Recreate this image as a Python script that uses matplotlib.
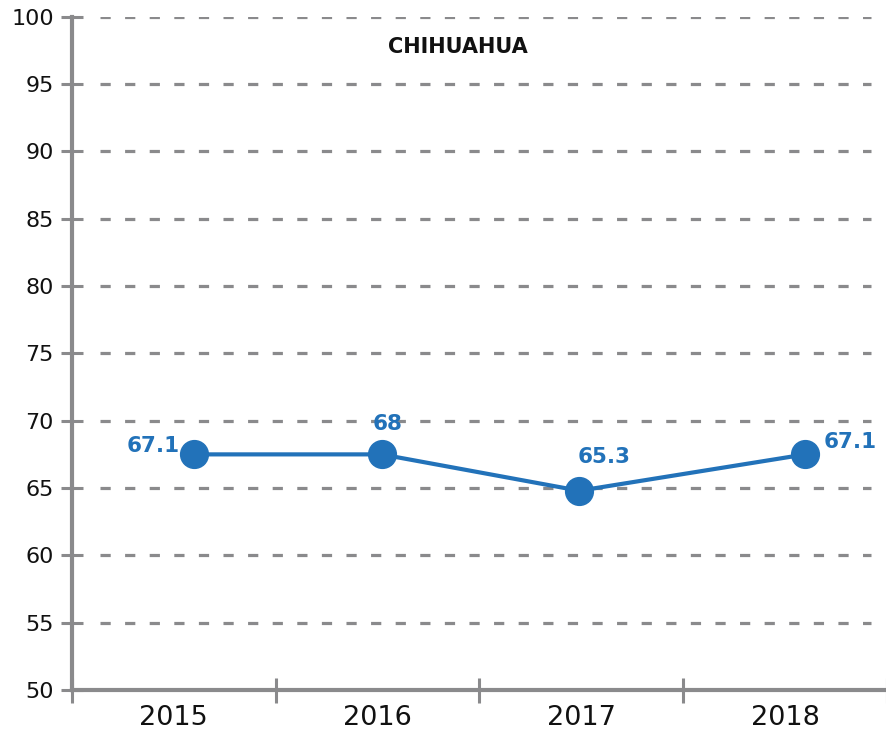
import numpy as np
import matplotlib
matplotlib.use('Agg')
import matplotlib.pyplot as plt
from matplotlib.ticker import FixedLocator

BLUE = '#2272B9'
GRAY = '#8A8A8C'

years = ['2015', '2016', '2017', '2018']
x_pos = [0.10, 1.02, 1.99, 3.10]          # point positions as drawn
values = [67.5, 67.5, 64.8, 67.5]          # heights as drawn
labels = ['67.1', '68', '65.3', '67.1']    # printed values
y_ticks = [50, 55, 60, 65, 70, 75, 80, 85, 90, 95, 100]

plt.rcParams['font.family'] = ['DejaVu Sans']

fig = plt.figure(figsize=(8.87, 7.34), dpi=100)
ax = fig.add_axes([0.081, 0.060, 0.919, 0.917])

ax.set_xlim(-0.5, 3.5)
ax.set_ylim(50, 100)

for y in y_ticks[1:]:
    ax.plot([-0.36, 3.42], [y, y], color=GRAY, lw=2.3, dashes=(3.2, 4.5), zorder=1)

ax.plot(x_pos, values, color=BLUE, lw=3, marker='o', markersize=20, zorder=3)

offs = [(-10, 6, 'right'), (4, 22, 'center'), (18, 24, 'center'), (13, 9, 'left')]
for xp, v, t, (dx, dy, ha) in zip(x_pos, values, labels, offs):
    ax.annotate(t, (xp, v), xytext=(dx, dy), textcoords='offset points',
                ha=ha, va='center', color=BLUE, fontsize=15.5, fontweight='bold', zorder=4)

ax.text(0.473, 0.955, 'CHIHUAHUA', transform=ax.transAxes, ha='center', va='center',
        fontsize=15, fontweight='bold', color='#111111')

for s in ['top', 'right']:
    ax.spines[s].set_visible(False)
for s in ['left', 'bottom']:
    ax.spines[s].set_color(GRAY)
    ax.spines[s].set_linewidth(3)

ax.set_yticks(y_ticks)
ax.set_yticklabels([str(v) for v in y_ticks])
ax.tick_params(axis='y', direction='inout', length=16, width=2.2, color=GRAY,
               labelsize=16, pad=5, labelcolor='#111111')

ax.set_xticks(range(len(years)))
ax.set_xticklabels(years)
ax.tick_params(axis='x', which='major', length=0, labelsize=19.5, pad=11, labelcolor='#111111')
ax.xaxis.set_minor_locator(FixedLocator([-0.5, 0.5, 1.5, 2.5, 3.5]))
ax.tick_params(axis='x', which='minor', direction='inout', length=18, width=2.2, color=GRAY)

fig.savefig('out.png', dpi=100)
